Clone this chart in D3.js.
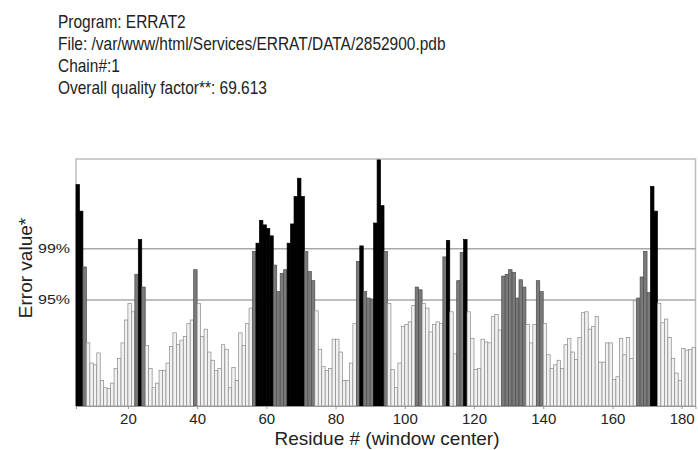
<!DOCTYPE html>
<html>
<head>
<meta charset="utf-8">
<script src="https://cdn.jsdelivr.net/npm/d3@7"></script>
<style>
  body { margin: 0; background: #fff; }
  svg { display: block; font-family: "Liberation Sans", Arial, sans-serif; }
</style>
</head>
<body>
<script>

// header lines printed above the plot
const headerLines = [
    'Program: ERRAT2',
    'File: /var/www/html/Services/ERRAT/DATA/2852900.pdb',
    'Chain#:1',
    'Overall quality factor**: 69.613'
];

// error value per window center, starting at residue 5
const firstResidue = 5;
const errorValues = [
    24.2, 21.3, 15.2, 6.9, 4.7, 4.5, 5.8, 2.8, 2.0, 1.9,
    2.5, 4.1, 5.2, 6.9, 9.4, 11.2, 10.3, 14.4, 18.2, 13.0,
    6.6, 4.1, 2.0, 2.5, 3.9, 3.9, 4.7, 6.5, 8.0, 6.7,
    7.2, 7.6, 9.0, 9.4, 14.9, 11.2, 7.6, 8.4, 5.9, 5.0,
    3.9, 4.1, 6.7, 6.2, 2.0, 4.2, 2.8, 8.0, 6.6, 9.0,
    10.7, 16.9, 17.8, 20.3, 19.8, 19.4, 18.6, 15.4, 12.5, 14.5,
    14.9, 17.8, 19.9, 22.9, 24.9, 22.9, 16.9, 14.7, 13.7, 10.4,
    6.2, 4.3, 3.9, 4.1, 7.3, 7.3, 5.9, 2.8, 2.8, 4.7,
    9.0, 15.8, 17.5, 12.5, 11.8, 11.7, 20.0, 26.9, 21.9, 16.9,
    11.2, 4.0, 2.0, 4.7, 8.7, 8.9, 9.2, 11.0, 13.0, 12.7,
    11.2, 10.7, 8.1, 8.9, 9.2, 9.0, 16.3, 18.1, 10.3, 5.7,
    13.7, 16.8, 18.2, 10.3, 7.4, 4.0, 4.1, 7.3, 7.0, 6.9,
    9.8, 10.0, 8.3, 14.2, 14.4, 14.9, 14.6, 11.8, 13.8, 13.0,
    8.9, 6.9, 8.9, 13.7, 12.5, 9.0, 5.6, 4.1, 4.5, 5.0,
    4.1, 6.7, 7.4, 5.9, 5.1, 7.5, 10.2, 10.3, 8.4, 8.7,
    9.8, 4.8, 4.8, 6.9, 6.9, 2.9, 3.2, 7.4, 5.6, 7.5,
    5.2, 11.5, 11.8, 14.1, 16.9, 12.4, 24.0, 21.3, 11.2, 9.1,
    9.5, 7.5, 5.2, 3.6, 2.8, 6.3, 6.1, 6.2, 6.4
];
const residues = errorValues.map((d, i) => firstResidue + i);

// rejection limits drawn as lines
const limitLabels = ['95%', '99%'];
const limitValues = [11.58, 17.19];

// axis ticks
const xTicks = [20, 40, 60, 80, 100, 120, 140, 160, 180];

const WIDTH = 698;
const HEIGHT = 450;
const PLOT = {left: 76, right: 695.5, top: 159, bottom: 406};

let svg = d3.select('body')
            .append('svg')
            .attr('width', WIDTH)
            .attr('height', HEIGHT);

// header text, the original print is a bit narrow
let header = svg.append('g')
                .attr('transform', 'translate(58,0) scale(0.86,1)');

header.selectAll('.header')
      .data(headerLines)
      .enter()
      .append('text')
      .attr('class', 'header')
      .attr('x', 0)
      .attr('y', (d, i) => 28 + i * 22)
      .style('font-size', '18px')
      .style('fill', '#222')
      .text(d => d);

// scales
const xScale = d3.scaleLinear()
                 .domain([firstResidue, firstResidue + errorValues.length])
                 .range([PLOT.left, PLOT.right]);

const yScale = d3.scaleLinear()
                 .domain([0, 27])
                 .range([PLOT.bottom, PLOT.top]);

// frame
svg.append('path')
   .attr('d', 'M' + PLOT.left + ',' + PLOT.bottom + 'V' + PLOT.top + 'H' + PLOT.right + 'V' + PLOT.bottom)
   .attr('fill', 'none')
   .attr('stroke', '#bdbdbd')
   .attr('stroke-width', 1.5);

// limit lines
svg.selectAll('.limit')
   .data(limitValues)
   .enter()
   .append('line')
   .attr('class', 'limit')
   .attr('x1', PLOT.left)
   .attr('x2', PLOT.right)
   .attr('y1', d => yScale(d))
   .attr('y2', d => yScale(d))
   .attr('stroke', '#a8a8a8')
   .attr('stroke-width', 1.5);

svg.selectAll('.limitLabel')
   .data(limitValues)
   .enter()
   .append('text')
   .attr('class', 'limitLabel')
   .attr('x', 70)
   .attr('y', d => yScale(d) + 4)
   .attr('text-anchor', 'end')
   .attr('textLength', 32)
   .attr('lengthAdjust', 'spacingAndGlyphs')
   .style('font-size', '12px')
   .style('fill', '#222')
   .text((d, i) => limitLabels[i]);

// bar colour depends on which limit is passed
function barFill(v) {
    if (v >= limitValues[1]) return '#000';
    if (v >= limitValues[0]) return '#7a7a7a';
    return '#f2f2f2';
}
function barStroke(v) {
    if (v >= limitValues[1]) return '#000';
    if (v >= limitValues[0]) return '#4d4d4d';
    return '#8a8a8a';
}

svg.selectAll('.bar')
   .data(errorValues)
   .enter()
   .append('rect')
   .attr('class', 'bar')
   .attr('x', (d, i) => xScale(residues[i]))
   .attr('y', d => yScale(d))
   .attr('width', (d, i) => xScale(residues[i] + 1) - xScale(residues[i]))
   .attr('height', d => PLOT.bottom - yScale(d))
   .attr('fill', d => barFill(d))
   .attr('stroke', d => barStroke(d))
   .attr('stroke-width', 0.7);

// x axis
const xAxis = d3.axisBottom(xScale)
                .tickValues(xTicks)
                .tickSize(3)
                .tickPadding(4)
                .tickFormat(d3.format('d'));

let gx = svg.append('g')
            .attr('transform', 'translate(0,' + PLOT.bottom + ')')
            .call(xAxis);
gx.select('.domain').attr('stroke', '#999');
gx.selectAll('.tick line').attr('stroke', '#999');
gx.selectAll('.tick text')
  .style('font-size', '15px')
  .style('fill', '#222')
  .style('font-family', '"Liberation Sans", Arial, sans-serif');

// axis titles
svg.append('text')
   .attr('x', 387)
   .attr('y', 445)
   .attr('text-anchor', 'middle')
   .style('font-size', '19px')
   .style('fill', '#222')
   .text('Residue # (window center)');

svg.append('text')
   .attr('transform', 'translate(32,268) rotate(-90)')
   .attr('text-anchor', 'middle')
   .style('font-size', '19px')
   .style('fill', '#222')
   .text('Error value*');

</script>
</body>
</html>
